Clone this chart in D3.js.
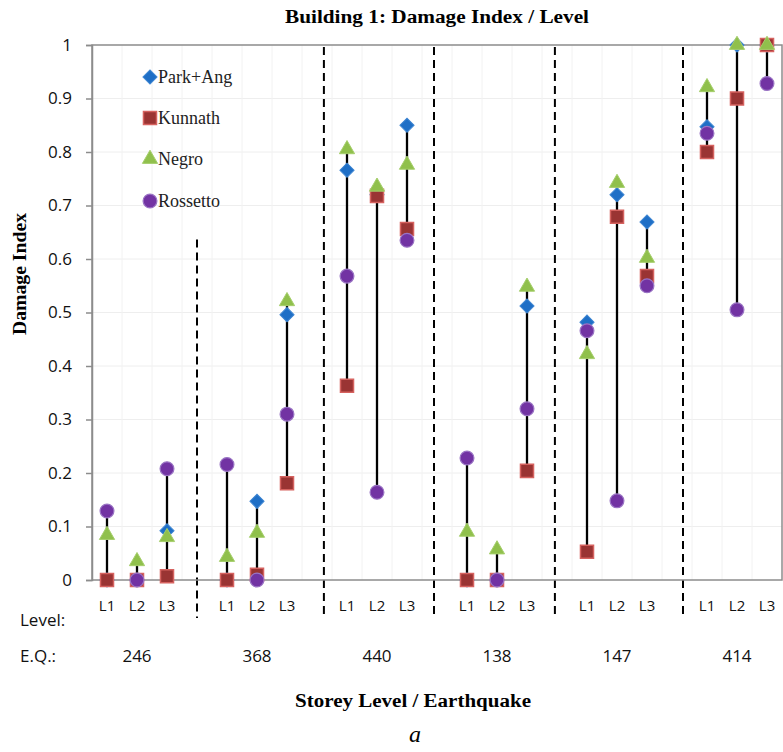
<!DOCTYPE html>
<html>
<head>
<meta charset="utf-8">
<script src="https://cdn.jsdelivr.net/npm/d3@7"></script>
<style>
  html, body { margin: 0; padding: 0; background: #fff; }
  svg { display: block; }
</style>
</head>
<body>
<svg id="chart" width="783" height="752"></svg>
<script>
// ---------------- DATA ----------------
const earthquakes = ["246", "368", "440", "138", "147", "414"];
const levels = ["L1", "L2", "L3"];
const seriesNames = ["Park+Ang", "Kunnath", "Negro", "Rossetto"];
// values per (earthquake, level), in order 246 L1..L3, 368 L1..L3, ...
const parkAng  = [0.00, 0.00, 0.092, 0.00, 0.147, 0.496, 0.766, 0.72, 0.85, 0.00, 0.00, 0.512, 0.482, 0.72, 0.669, 0.847, 1.00, 1.00];
const kunnath  = [0.00, 0.00, 0.007, 0.00, 0.010, 0.181, 0.363, 0.718, 0.656, 0.00, 0.00, 0.204, 0.053, 0.679, 0.568, 0.800, 0.900, 1.00];
const negro    = [0.084, 0.035, 0.080, 0.043, 0.088, 0.521, 0.805, 0.735, 0.776, 0.090, 0.057, 0.548, 0.422, 0.742, 0.602, 0.921, 1.00, 1.00];
const rossetto = [0.129, 0.00, 0.208, 0.216, 0.00, 0.310, 0.568, 0.164, 0.635, 0.228, 0.00, 0.320, 0.466, 0.148, 0.550, 0.835, 0.505, 0.928];
const yTicks = [0, 0.1, 0.2, 0.3, 0.4, 0.5, 0.6, 0.7, 0.8, 0.9, 1];
const yTickLabels = ["0", "0.1", "0.2", "0.3", "0.4", "0.5", "0.6", "0.7", "0.8", "0.9", "1"];
// group separators: position in slot units (slot centre index) and top value
const separatorSlots = [3, 7.23, 10.9, 14.93, 19.2];
const separatorTops = [0.64, 1, 1, 1, 1];

// ---------------- LAYOUT ----------------
const L = 92, R = 782, T = 45, B = 580;
const svg = d3.select("#chart");

// slots: 3 levels per earthquake + one empty slot between groups
const slotKeys = [];
earthquakes.forEach((eq, gi) => {
  levels.forEach(lv => slotKeys.push(eq + "|" + lv));
  if (gi < earthquakes.length - 1) slotKeys.push("gap" + gi);
});
const x = d3.scaleBand().domain(slotKeys).range([L, R]).padding(0);
const step = x.step();
const xc = k => x(k) + x.bandwidth() / 2;
const slotX = s => L + s * step + step / 2;
const y = d3.scaleLinear().domain([0, 1]).range([B, T]);

const points = [];
earthquakes.forEach((eq, gi) => levels.forEach((lv, li) => {
  const i = gi * 3 + li;
  points.push({ key: eq + "|" + lv, eq, lv, vals: [parkAng[i], kunnath[i], negro[i], rossetto[i]] });
}));

// ---------------- GRID ----------------
const grid = svg.append("g");
grid.selectAll("line.h").data(yTicks.slice(1, -1)).enter().append("line")
  .attr("x1", L).attr("x2", R).attr("y1", d => y(d)).attr("y2", d => y(d))
  .attr("stroke", "#eeeeee").attr("stroke-width", 1);
grid.selectAll("line.v").data(d3.range(1, slotKeys.length)).enter().append("line")
  .attr("x1", d => L + d * step).attr("x2", d => L + d * step)
  .attr("y1", T).attr("y2", B)
  .attr("stroke", "#f2f2f2").attr("stroke-width", 1);

// ---------------- SEPARATORS ----------------
svg.append("g").selectAll("line").data(separatorSlots).enter().append("line")
  .attr("x1", d => slotX(d)).attr("x2", d => slotX(d))
  .attr("y1", (d, i) => y(separatorTops[i]) + 2).attr("y2", 618)
  .attr("stroke", "#000").attr("stroke-width", 2).attr("stroke-dasharray", "8,5");

// ---------------- FRAME / AXES ----------------
svg.append("rect").attr("x", L).attr("y", T).attr("width", R - L).attr("height", B - T)
  .attr("fill", "none").attr("stroke", "#8c8c8c").attr("stroke-width", 1.5);

const yAxis = svg.append("g").attr("transform", `translate(${L},0)`)
  .call(d3.axisLeft(y).tickValues(yTicks).tickSize(6).tickPadding(14)
    .tickFormat((d, i) => yTickLabels[i]));
yAxis.select(".domain").attr("stroke", "#8c8c8c").attr("stroke-width", 1.5);
yAxis.selectAll(".tick line").attr("stroke", "#8c8c8c").attr("stroke-width", 1.5);
yAxis.selectAll(".tick text").attr("font-family", "'Open Sans', sans-serif")
  .attr("font-size", 17).attr("fill", "#111");

// ---------------- HIGH-LOW LINES ----------------
svg.append("g").selectAll("line").data(points).enter().append("line")
  .attr("x1", d => xc(d.key)).attr("x2", d => xc(d.key))
  .attr("y1", d => y(d3.max(d.vals))).attr("y2", d => y(d3.min(d.vals)))
  .attr("stroke", "#000").attr("stroke-width", 2.3);

// ---------------- MARKERS ----------------
const styles = [
  { sym: d3.symbolSquare, size: 100, rot: 45, fill: "#1f6fc6", stroke: "#3f86d2", sw: 1 },
  { sym: d3.symbolSquare, size: 170, rot: 0, fill: "#9a3433", stroke: "#d6625f", sw: 1.5 },
  { sym: d3.symbolTriangle, size: 100, rot: 0, fill: "#90c04c", stroke: "#a6cf6c", sw: 1 },
  { sym: d3.symbolCircle, size: 150, rot: 0, fill: "#7233a3", stroke: "#9a74c4", sw: 1.2 }
];
styles.forEach((st, si) => {
  svg.append("g").selectAll("path").data(points).enter().append("path")
    .attr("d", d3.symbol().type(st.sym).size(st.size))
    .attr("transform", d => `translate(${xc(d.key)},${y(d.vals[si])}) rotate(${st.rot})`)
    .attr("fill", st.fill).attr("stroke", st.stroke).attr("stroke-width", st.sw);
});

// ---------------- LEGEND ----------------
const legY = [77, 118, 159, 201];
const leg = svg.append("g");
styles.forEach((st, si) => {
  leg.append("path").attr("d", d3.symbol().type(st.sym).size(st.size))
    .attr("transform", `translate(150,${legY[si]}) rotate(${st.rot})`)
    .attr("fill", st.fill).attr("stroke", st.stroke).attr("stroke-width", st.sw);
  leg.append("text").attr("x", 158).attr("y", legY[si] + 6)
    .attr("font-family", "'Liberation Serif', 'Times New Roman', serif").attr("font-size", 18)
    .attr("fill", "#222").text(seriesNames[si]);
});

// ---------------- CATEGORY LABELS ----------------
const sans = "'Open Sans', sans-serif";
svg.append("g").selectAll("text").data(points).enter().append("text")
  .attr("x", d => xc(d.key)).attr("y", 611).attr("text-anchor", "middle")
  .attr("font-family", sans).attr("font-size", 15).attr("fill", "#111").text(d => d.lv);
svg.append("g").selectAll("text").data(earthquakes).enter().append("text")
  .attr("x", d => xc(d + "|L2")).attr("y", 662).attr("text-anchor", "middle")
  .attr("font-family", sans).attr("font-size", 17).attr("fill", "#111").text(d => d);
svg.append("text").attr("x", 20).attr("y", 626).attr("font-family", sans)
  .attr("font-size", 17).attr("fill", "#111").text("Level:");
svg.append("text").attr("x", 20).attr("y", 662).attr("font-family", sans)
  .attr("font-size", 17).attr("fill", "#111").text("E.Q.:");

// ---------------- TITLES ----------------
const serif = "'Liberation Serif', 'Times New Roman', serif";
svg.append("text").attr("x", 437).attr("y", 23).attr("text-anchor", "middle")
  .attr("font-family", serif).attr("font-weight", "bold").attr("font-size", 18)
  .attr("textLength", 304).attr("lengthAdjust", "spacingAndGlyphs")
  .text("Building 1: Damage Index / Level");
svg.append("text").attr("transform", "translate(26,274) rotate(-90)").attr("text-anchor", "middle")
  .attr("font-family", serif).attr("font-weight", "bold").attr("font-size", 18)
  .attr("textLength", 122).attr("lengthAdjust", "spacingAndGlyphs")
  .text("Damage Index");
svg.append("text").attr("x", 413).attr("y", 707).attr("text-anchor", "middle")
  .attr("font-family", serif).attr("font-weight", "bold").attr("font-size", 18)
  .attr("textLength", 236).attr("lengthAdjust", "spacingAndGlyphs")
  .text("Storey Level / Earthquake");
svg.append("text").attr("x", 415).attr("y", 742).attr("text-anchor", "middle")
  .attr("font-family", serif).attr("font-style", "italic").attr("font-size", 24)
  .text("a");
</script>
</body>
</html>
